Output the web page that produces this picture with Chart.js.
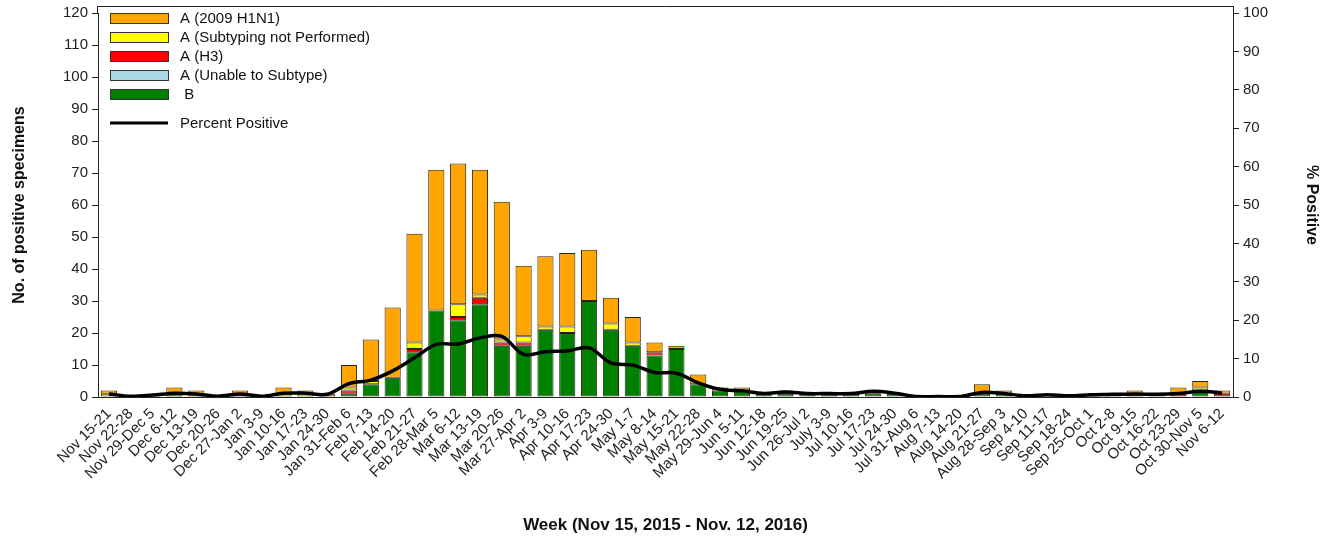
<!DOCTYPE html>
<html>
<head>
<meta charset="utf-8">
<script src="https://cdn.jsdelivr.net/npm/chart.js@4.4.1/dist/chart.umd.min.js"></script>
<style>
  html, body { margin: 0; padding: 0; background: #fff; }
  #wrap { position: relative; width: 1325px; height: 540px; }
</style>
</head>
<body>
<div id="wrap"><canvas id="fluChart" width="1325" height="540"></canvas></div>
<script>
const weeks = [
  'Nov 15-21', 'Nov 22-28', 'Nov 29-Dec 5', 'Dec 6-12', 'Dec 13-19', 'Dec 20-26',
  'Dec 27-Jan 2', 'Jan 3-9', 'Jan 10-16', 'Jan 17-23', 'Jan 24-30', 'Jan 31-Feb 6',
  'Feb 7-13', 'Feb 14-20', 'Feb 21-27', 'Feb 28-Mar 5', 'Mar 6-12', 'Mar 13-19',
  'Mar 20-26', 'Mar 27-Apr 2', 'Apr 3-9', 'Apr 10-16', 'Apr 17-23', 'Apr 24-30',
  'May 1-7', 'May 8-14', 'May 15-21', 'May 22-28', 'May 29-Jun 4', 'Jun 5-11',
  'Jun 12-18', 'Jun 19-25', 'Jun 26-Jul 2', 'July 3-9', 'Jul 10-16', 'Jul 17-23',
  'Jul 24-30', 'Jul 31-Aug 6', 'Aug 7-13', 'Aug 14-20', 'Aug 21-27', 'Aug 28-Sep 3',
  'Sep 4-10', 'Sep 11-17', 'Sep 18-24', 'Sep 25-Oct 1', 'Oct 2-8', 'Oct 9-15',
  'Oct 16-22', 'Oct 23-29', 'Oct 30-Nov 5', 'Nov 6-12'
];

const fluB = [
  0, 0, 0, 1, 0, 0, 0, 0, 0, 0, 0, 1, 4, 6, 14, 27, 24, 29, 16, 16, 21, 20, 30, 21, 16, 13,
  15, 4, 2, 2, 1, 1, 1, 1, 1, 1, 1, 0, 0, 0, 1, 1, 0, 0, 0, 0, 0, 0, 0, 0, 2, 0
];
const unableToSubtype = [
  0, 0, 0, 0, 0, 0, 0, 0, 0, 0, 0, 0, 0, 0, 0, 0, 0, 0, 0, 0, 0, 0, 0, 0, 0, 0,
  0, 0, 0, 0, 0, 0, 0, 0, 0, 0, 0, 0, 0, 0, 0, 0, 0, 0, 0, 0, 0, 0, 0, 0, 0, 0
];
const h3 = [
  0, 0, 0, 0, 0, 0, 0, 0, 0, 0, 0, 1, 0, 0, 1, 0, 1, 2, 1, 1, 0, 0, 0, 0, 0, 1,
  0, 0, 0, 0, 0, 0, 0, 0, 0, 0, 0, 0, 0, 0, 0, 0, 0, 0, 0, 0, 0, 0, 0, 1, 0, 1
];
const notSubtyped = [
  1, 0, 0, 0, 0, 0, 0, 0, 1, 1, 0, 1, 1, 0, 2, 0, 4, 1, 1, 2, 1, 2, 0, 2, 1, 0,
  0, 0, 0, 0, 0, 0, 0, 0, 0, 0, 0, 0, 0, 0, 0, 0, 0, 0, 0, 0, 0, 0, 0, 0, 1, 0
];
const h1n1 = [
  1, 0, 1, 2, 2, 0, 2, 0, 2, 1, 1, 7, 13, 22, 34, 44, 44, 39, 43, 22, 22, 23, 16, 8, 8, 3,
  1, 3, 1, 1, 0, 1, 0, 0, 0, 1, 0, 0, 0, 0, 3, 1, 0, 1, 0, 1, 1, 2, 1, 2, 2, 1
];
const percentPositive = [
  0.8, 0.2, 0.5, 1.0, 0.8, 0.2, 0.8, 0.2, 1.0, 1.0, 0.7, 3.5, 4.4, 6.8, 10.2, 13.7, 13.8, 15.4,
  15.8, 11.1, 11.8, 12.0, 12.8, 8.9, 8.3, 6.4, 6.2, 3.7, 2.0, 1.6, 0.9, 1.3, 0.9, 0.9, 0.9, 1.5,
  1.0, 0.1, 0.1, 0.1, 1.2, 0.9, 0.3, 0.6, 0.3, 0.6, 0.7, 0.8, 0.7, 0.9, 1.5, 1.0
];

const countTicks = [0, 10, 20, 30, 40, 50, 60, 70, 80, 90, 100, 110, 120];
const percentTicks = [0, 10, 20, 30, 40, 50, 60, 70, 80, 90, 100];

const FONT = '"Liberation Sans", Arial, sans-serif';

function barSet(label, data, color) {
  return {
    type: 'bar',
    label,
    data,
    backgroundColor: color,
    borderColor: '#2a2210',
    borderWidth: 1,
    borderSkipped: false,
    stack: 'flu',
    yAxisID: 'y',
    order: 2,
    barPercentage: 0.74,
    categoryPercentage: 1
  };
}

// legend drawn inside the plot, top-left, in the reference's order
const insideLegend = {
  id: 'insideLegend',
  afterDraw(chart) {
    const { ctx, chartArea } = chart;
    const order = [4, 3, 2, 1, 0];
    const x = chartArea.left + 12;
    let y = chartArea.top + 5;
    ctx.save();
    ctx.font = `15px ${FONT}`;
    ctx.textBaseline = 'middle';
    order.forEach(i => {
      const ds = chart.data.datasets[i];
      ctx.fillStyle = ds.backgroundColor;
      ctx.fillRect(x, y - 5, 58, 10);
      ctx.strokeStyle = '#333';
      ctx.lineWidth = 1;
      ctx.strokeRect(x + 0.5, y - 4.5, 58, 10);
      ctx.fillStyle = '#111';
      ctx.fillText(ds.label === 'B' ? ' B' : ds.label, x + 70, y + 1);
      y += 19;
    });
    y += 10;
    const line = chart.data.datasets[5];
    ctx.strokeStyle = line.borderColor;
    ctx.lineWidth = 3;
    ctx.beginPath();
    ctx.moveTo(x, y);
    ctx.lineTo(x + 58, y);
    ctx.stroke();
    ctx.fillStyle = '#111';
    ctx.fillText(line.label, x + 70, y + 1);
    ctx.restore();
  }
};

// thin frame across the top of the plot
const plotFrame = {
  id: 'plotFrame',
  afterDraw(chart) {
    const { ctx, chartArea } = chart;
    ctx.save();
    ctx.strokeStyle = '#222';
    ctx.lineWidth = 1;
    ctx.beginPath();
    ctx.moveTo(chartArea.left, chartArea.top - 6.5);
    ctx.lineTo(chartArea.right, chartArea.top - 6.5);
    ctx.moveTo(chartArea.left - 0.5, chartArea.top - 7);
    ctx.lineTo(chartArea.left - 0.5, chartArea.top);
    ctx.moveTo(chartArea.right + 0.5, chartArea.top - 7);
    ctx.lineTo(chartArea.right + 0.5, chartArea.top);
    ctx.stroke();
    ctx.restore();
  }
};

const ctx = document.getElementById('fluChart').getContext('2d');

new Chart(ctx, {
  data: {
    labels: weeks,
    datasets: [
      barSet('B', fluB, '#008000'),
      barSet('A (Unable to Subtype)', unableToSubtype, '#add8e6'),
      barSet('A (H3)', h3, '#ff0000'),
      barSet('A (Subtyping not Performed)', notSubtyped, '#ffff00'),
      barSet('A (2009 H1N1)', h1n1, '#ffa500'),
      {
        type: 'line',
        label: 'Percent Positive',
        data: percentPositive,
        borderColor: '#000',
        borderWidth: 3.5,
        pointRadius: 0,
        tension: 0.35,
        fill: false,
        yAxisID: 'y1',
        order: 0
      }
    ]
  },
  options: {
    responsive: false,
    animation: false,
    layout: { padding: { top: 12, left: 10, right: 0, bottom: 4 } },
    plugins: {
      legend: { display: false },
      tooltip: { enabled: false }
    },
    scales: {
      x: {
        stacked: true,
        offset: true,
        grid: { display: false },
        border: { display: true, color: '#222', width: 1 },
        ticks: {
          color: '#222',
          font: { family: FONT, size: 15 },
          minRotation: 45,
          maxRotation: 45,
          autoSkip: false,
          padding: 0
        },
        title: {
          display: true,
          text: 'Week (Nov 15, 2015 - Nov. 12, 2016)',
          color: '#111',
          font: { family: FONT, size: 17, weight: 'bold' },
          padding: { top: 33, bottom: 0 }
        }
      },
      y: {
        stacked: true,
        position: 'left',
        min: 0,
        max: 120,
        afterBuildTicks(scale) {
          scale.ticks = countTicks.map(v => ({ value: v }));
        },
        afterFit(scale) { scale.width = 88; },
        grid: { drawOnChartArea: false, tickLength: 6, color: '#222' },
        border: { display: true, color: '#222', width: 1 },
        ticks: {
          color: '#222',
          font: { family: FONT, size: 15 },
          padding: 4
        },
        title: {
          display: true,
          text: 'No. of positive specimens',
          color: '#111',
          font: { family: FONT, size: 16, weight: 'bold' },
          padding: { top: 0, bottom: 4 }
        }
      },
      y1: {
        position: 'right',
        min: 0,
        max: 100,
        afterBuildTicks(scale) {
          scale.ticks = percentTicks.map(v => ({ value: v }));
        },
        afterFit(scale) { scale.width = 92; },
        grid: { drawOnChartArea: false, tickLength: 6, color: '#222' },
        border: { display: true, color: '#222', width: 1 },
        ticks: {
          color: '#222',
          font: { family: FONT, size: 15 },
          padding: 4
        },
        title: {
          display: true,
          text: '% Positive',
          color: '#111',
          font: { family: FONT, size: 16, weight: 'bold' },
          padding: { top: 4, bottom: 0 }
        }
      }
    }
  },
  plugins: [insideLegend, plotFrame]
});
</script>
</body>
</html>
